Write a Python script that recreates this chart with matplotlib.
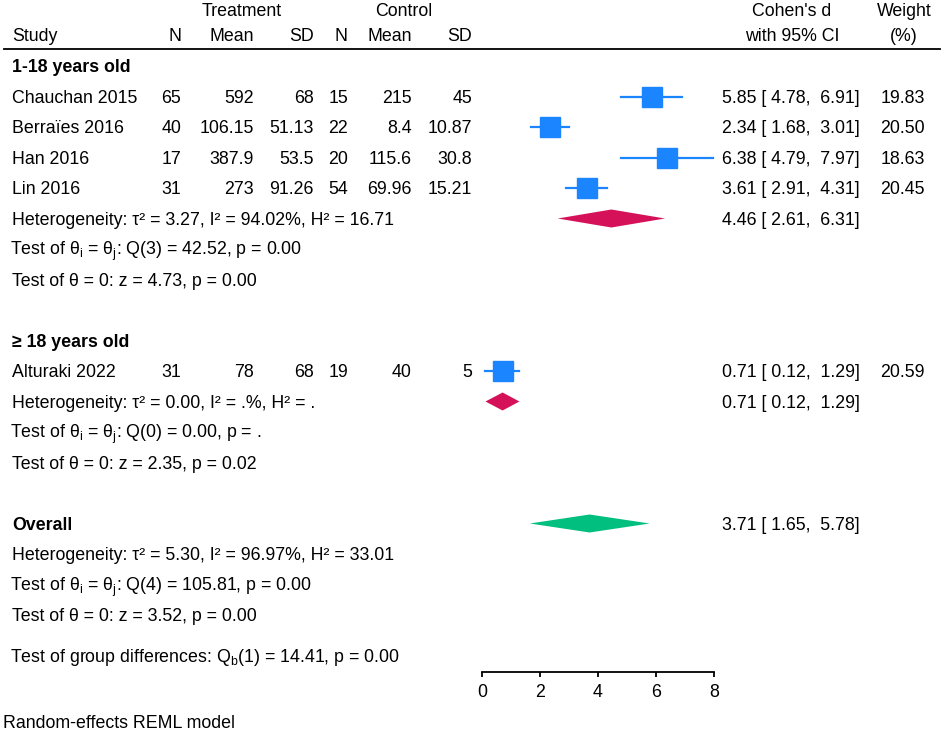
import matplotlib
matplotlib.use("Agg")
import matplotlib.pyplot as plt
import numpy as np

plt.rcParams['font.family'] = ['Liberation Sans', 'DejaVu Sans']
plt.rcParams['mathtext.fontset'] = 'custom'
plt.rcParams['mathtext.rm'] = 'Liberation Sans'
plt.rcParams['mathtext.it'] = 'Liberation Sans:italic'

# ---- data ----
studies = ['Chauchan 2015', 'Berraïes 2016', 'Han 2016', 'Lin 2016', 'Alturaki 2022']
group_of = [0, 0, 0, 0, 1]
t_n = [65, 40, 17, 31, 31]
t_mean = [592, 106.15, 387.9, 273, 78]
t_sd = [68, 51.13, 53.5, 91.26, 68]
c_n = [15, 22, 20, 54, 19]
c_mean = [215, 8.4, 115.6, 69.96, 40]
c_sd = [45, 10.87, 30.8, 15.21, 5]
es = [5.85, 2.34, 6.38, 3.61, 0.71]
ci_lo = [4.78, 1.68, 4.79, 2.91, 0.12]
ci_hi = [6.91, 3.01, 7.97, 4.31, 1.29]
weight = [19.83, 20.50, 18.63, 20.45, 20.59]

groups = ['1-18 years old', '≥ 18 years old']
group_es = [4.46, 0.71]
group_lo = [2.61, 0.12]
group_hi = [6.31, 1.29]
group_het = ['Heterogeneity: τ² = 3.27, I² = 94.02%, H² = 16.71',
             'Heterogeneity: τ² = 0.00, I² = .%, H² = .']
group_q = ['Test of θ$_\\mathrm{i}$ = θ$_\\mathrm{j}$: Q(3) = 42.52, p = 0.00',
           'Test of θ$_\\mathrm{i}$ = θ$_\\mathrm{j}$: Q(0) = 0.00, p = .']
group_z = ['Test of θ = 0: z = 4.73, p = 0.00',
           'Test of θ = 0: z = 2.35, p = 0.02']

overall_es, overall_lo, overall_hi = 3.71, 1.65, 5.78
overall_het = 'Heterogeneity: τ² = 5.30, I² = 96.97%, H² = 33.01'
overall_q = 'Test of θ$_\\mathrm{i}$ = θ$_\\mathrm{j}$: Q(4) = 105.81, p = 0.00'
overall_z = 'Test of θ = 0: z = 3.52, p = 0.00'
group_diff = 'Test of group differences: Q$_\\mathrm{b}$(1) = 14.41, p = 0.00'
xticks = [0, 2, 4, 6, 8]

# ---- style ----
blue = '#1A85FF'
red = '#D41159'
green = '#00BF7F'
fs = 12.8
W, H = 944, 735
base = 6.3  # pixel offset from row centre to text baseline

# row layout (pixel rows)
y0, step = 66, 30.5
def row(i):
    return y0 + i * step

fig = plt.figure(figsize=(W / 100, H / 100), dpi=100)
tab = fig.add_axes([0, 0, 1, 1])
tab.set_xlim(0, W)
tab.set_ylim(H, 0)
tab.axis('off')


def txt(x, y, s, ha='left', **kw):
    if '$' in s:
        x -= 2  # mathtext adds a little left padding
    tab.text(x, y + base, s, ha=ha, va='baseline', fontsize=fs, **kw)


axis_y = 672
ax = fig.add_axes([482 / W, (H - axis_y) / H, 232 / W, axis_y / H])
ax.set_xlim(0, 8)
ax.set_ylim(axis_y, 0)
ax.patch.set_alpha(0)
for s in ['top', 'right', 'left']:
    ax.spines[s].set_visible(False)
ax.spines['bottom'].set_linewidth(1.3)
ax.set_yticks([])
ax.set_xticks(xticks)
ax.tick_params(axis='x', direction='out', length=3.8, width=1.3, pad=4.5, labelsize=fs)

# headers
hy1, hy2 = 10, 35
txt(242, hy1, 'Treatment', ha='center')
txt(404, hy1, 'Control', ha='center')
txt(12, hy2, 'Study')
col_x = [181, 254, 314, 348, 412, 472]
for x, lab in zip(col_x, ['N', 'Mean', 'SD', 'N', 'Mean', 'SD']):
    txt(x, hy2, lab, ha='right')
txt(792, hy1, "Cohen's d", ha='center')
txt(792, hy2, 'with 95% CI', ha='center')
txt(904, hy1, 'Weight', ha='center')
txt(904, hy2, '(%)', ha='center')
tab.plot([4, 940], [49, 49], color='black', lw=1.3)

ci_x, wt_x, left_x = 722, 925, 12
max_w = max(weight)


def ci_text(e, l, h):
    return f'{e:.2f} [{l:5.2f}, {h:5.2f}]'


def diamond(yc, e, l, h, color):
    ax.fill([l, e, h, e], [yc, yc - 9, yc, yc + 9], color=color, lw=0, clip_on=False)


r = 0
for g, gname in enumerate(groups):
    txt(left_x, row(r), gname, fontweight='bold')
    r += 1
    for i in [k for k in range(len(studies)) if group_of[k] == g]:
        y = row(r)
        txt(left_x, y, studies[i])
        vals = [t_n[i], t_mean[i], t_sd[i], c_n[i], c_mean[i], c_sd[i]]
        for x, v in zip(col_x, vals):
            txt(x, y, f'{v:g}', ha='right')
        ax.plot([ci_lo[i], ci_hi[i]], [y, y], color=blue, lw=1.6, clip_on=False)
        side = 20 * np.sqrt(weight[i] / max_w)
        ax.plot([es[i]], [y], marker='s', ms=side * 0.72, color=blue, mec=blue, clip_on=False)
        txt(ci_x, y, ci_text(es[i], ci_lo[i], ci_hi[i]))
        txt(wt_x, y, f'{weight[i]:.2f}', ha='right')
        r += 1
    y = row(r)
    txt(left_x, y, group_het[g])
    diamond(y, group_es[g], group_lo[g], group_hi[g], red)
    txt(ci_x, y, ci_text(group_es[g], group_lo[g], group_hi[g]))
    txt(left_x, row(r + 1), group_q[g])
    txt(left_x, row(r + 2), group_z[g])
    r += 4

y = row(r)
txt(left_x, y, 'Overall', fontweight='bold')
diamond(y, overall_es, overall_lo, overall_hi, green)
txt(ci_x, y, ci_text(overall_es, overall_lo, overall_hi))
txt(left_x, row(r + 1), overall_het)
txt(left_x, row(r + 2), overall_q)
txt(left_x, row(r + 3), overall_z)
txt(left_x, 656, group_diff)

txt(3, 722, 'Random-effects REML model')

fig.savefig('out.png', dpi=100)
